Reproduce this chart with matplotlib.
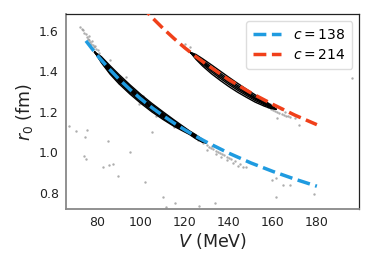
import matplotlib
matplotlib.use("Agg")
import matplotlib.pyplot as plt
import numpy as np

plt.rcParams["font.family"] = "DejaVu Sans"
plt.rcParams["mathtext.fontset"] = "dejavusans"

# dashed curves
curve_v_138 = [75, 80, 85, 90, 95, 100, 105, 110, 115, 120, 125, 130, 140, 150, 160, 170, 180]
curve_r_138 = [1.550, 1.480, 1.418, 1.361, 1.310, 1.263, 1.220, 1.181, 1.144, 1.110,
               1.078, 1.049, 0.995, 0.947, 0.905, 0.867, 0.832]
curve_v_214 = [100, 105, 110, 115, 120, 125, 130, 140, 150, 160, 170, 180]
curve_r_214 = [1.725, 1.666, 1.612, 1.562, 1.515, 1.472, 1.432, 1.358, 1.293, 1.236,
               1.183, 1.136]

# density contours: centre line, half width of the outer level, level fractions
blue_v = [79, 82, 86, 90, 95, 100, 105, 110, 115, 119, 122, 125, 128, 129.5]
blue_mid = [1.494, 1.457, 1.406, 1.361, 1.310, 1.263, 1.220, 1.181, 1.144, 1.117,
            1.097, 1.076, 1.056, 1.047]
blue_half = [0.0, 0.015, 0.021, 0.023, 0.023, 0.022, 0.021, 0.019, 0.016, 0.012,
             0.009, 0.010, 0.007, 0.0]
blue_levels = [1.0, 0.7, 0.42, 0.15]

red_v = [122.5, 125, 128, 132, 136, 140, 144, 148, 152, 156, 159, 161.5]
red_mid = [1.493, 1.471, 1.444, 1.410, 1.378, 1.347, 1.318, 1.291, 1.265, 1.242,
           1.225, 1.212]
red_half = [0.0, 0.012, 0.018, 0.022, 0.023, 0.023, 0.022, 0.020, 0.018, 0.014,
            0.009, 0.0]
red_levels = [1.0, 0.55, 0.2]

# posterior samples visible outside the contours
pts_v = [72.5, 73.5, 74, 74.8, 75.5, 76, 76.5, 77, 77.5, 78, 78.8, 79.5, 76.2, 77.8,
         79, 80.5, 81, 73, 86, 93, 101, 112, 90, 99, 107, 115,
         126, 128, 130, 131, 132, 133, 134, 135, 136, 137, 138, 139, 140, 141, 143,
         145, 146.6, 148, 130, 132.5, 134, 136.5, 139, 142, 144,
         118, 119.5, 121, 122.4, 120, 130, 135, 142, 150,
         156, 158, 159, 160, 161, 162, 163, 164, 165, 166, 167, 168, 170, 172,
         158.8, 161, 163.5, 165.5, 162,
         67.4, 70.6, 75.5, 74.7, 85, 73.9, 75.1, 82.7, 85.7, 87.3, 89.4,
         102, 110, 115.6, 111.5, 126.2, 133.5, 161.5, 164.5, 167.9, 178.5,
         159.5, 161.5, 95, 105, 196]
pts_r = [1.620, 1.605, 1.590, 1.585, 1.570, 1.560, 1.552, 1.545, 1.535, 1.530, 1.520,
         1.510, 1.575, 1.548, 1.525, 1.505, 1.490, 1.610, 1.455, 1.370, 1.280, 1.170,
         1.340, 1.240, 1.180, 1.125,
         1.060, 1.045, 1.035, 1.025, 1.020, 1.015, 1.008, 1.000, 0.995, 0.990, 0.985,
         0.978, 0.970, 0.965, 0.955, 0.940, 0.928, 0.925, 1.011, 1.030, 0.990, 0.975,
         0.960, 0.945, 0.930,
         1.530, 1.520, 1.510, 1.520, 1.535, 1.430, 1.370, 1.330, 1.280,
         1.235, 1.225, 1.215, 1.210, 1.205, 1.200, 1.195, 1.190, 1.185, 1.180, 1.178,
         1.175, 1.170, 1.134,
         1.240, 1.230, 1.215, 1.200, 1.170,
         1.129, 1.106, 1.110, 1.077, 1.055, 0.981, 0.965, 0.925, 0.937, 0.942, 0.882,
         0.854, 0.780, 0.751, 0.731, 0.735, 0.748, 0.780, 0.838, 0.838, 0.794,
         0.863, 0.871, 1.000, 1.100, 1.365]


def draw_band(ax, v, mid, half, levels):
    v = np.asarray(v)
    mid = np.asarray(mid)
    half = np.asarray(half)
    for f in levels:
        xs = np.concatenate([v, v[::-1], v[:1]])
        ys = np.concatenate([mid + f * half, (mid - f * half)[::-1], mid[:1]])
        ax.plot(xs, ys, color="black", linewidth=1.0, zorder=2)


fig = plt.figure(figsize=(3.74, 2.67), dpi=100)
ax = fig.add_axes([0.1757, 0.2161, 0.785, 0.7303])

ax.scatter(pts_v, pts_r, s=3, color="#8a8a8a", alpha=0.7, linewidths=0, zorder=1)
draw_band(ax, blue_v, blue_mid, blue_half, blue_levels)
draw_band(ax, red_v, red_mid, red_half, red_levels)

ax.plot(curve_v_138, curve_r_138, "--", color="#1f9be0", linewidth=2.5, zorder=3,
        label="$c = 138$")
ax.plot(curve_v_214, curve_r_214, "--", color="#f0401a", linewidth=2.5, zorder=3,
        label="$c = 214$")

ax.set_xlim(65.8, 199.3)
ax.set_ylim(0.718, 1.681)
ax.set_xticks([80, 100, 120, 140, 160, 180])
ax.set_yticks([0.8, 1.0, 1.2, 1.4, 1.6])
ax.tick_params(length=0, labelsize=9, pad=5, labelcolor="#222222")
ax.set_xlabel("$V$ (MeV)", fontsize=12.5, labelpad=1, color="#222222")
ax.set_ylabel("$r_0$ (fm)", fontsize=12.5, labelpad=3, color="#222222")

for side in ("left", "bottom"):
    ax.spines[side].set_color("#888888")
    ax.spines[side].set_linewidth(1.3)
for side in ("top", "right"):
    ax.spines[side].set_color("#222222")
    ax.spines[side].set_linewidth(0.9)

leg = ax.legend(loc="upper right", fontsize=10, handlelength=2.0, borderpad=0.5,
                labelspacing=0.4, handletextpad=0.9, framealpha=1.0)
leg.get_frame().set_edgecolor("#dddddd")

fig.savefig("out.png", dpi=100)
